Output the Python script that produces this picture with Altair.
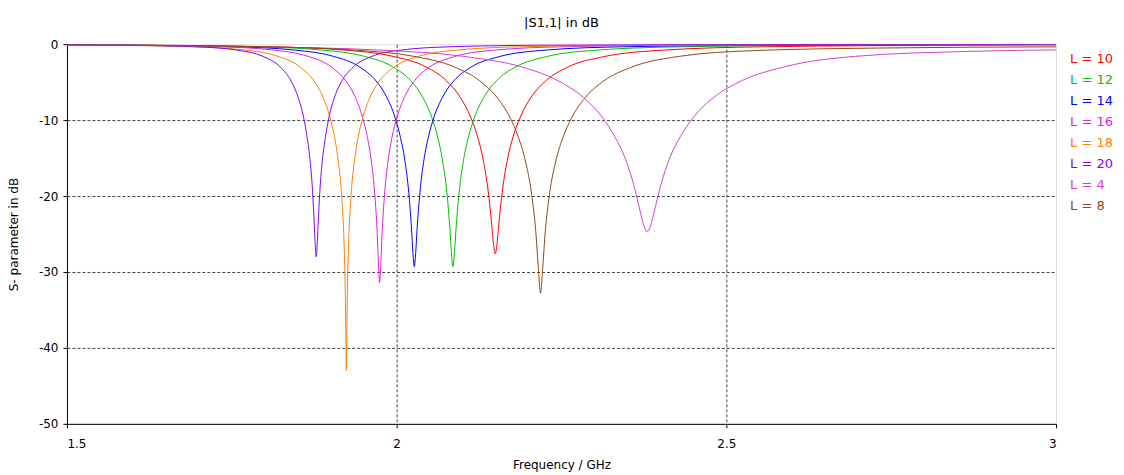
import altair as alt
import pandas as pd

# ---- data (frequency in GHz, |S1,1| in dB) ----
L20_f = [1.5, 1.5755, 1.6946, 1.7578, 1.7970, 1.8236, 1.8398, 1.8506, 1.8588, 1.8643, 1.8684, 1.8725, 1.8752, 1.8766, 1.878,
         1.8794, 1.8808, 1.8835, 1.8877, 1.8919, 1.8974, 1.9058, 1.9171, 1.9341, 1.9627, 2.0064, 2.0813, 2.2386, 2.5099, 3.0]
L20_db = [-0.07, -0.12, -0.34, -0.78, -1.60, -3.01, -4.83, -6.99, -9.62, -12.3, -15.05, -19.4, -23.9, -26.56, -28.0,
          -26.56, -23.9, -19.4, -15.05, -12.3, -9.62, -6.99, -4.83, -3.01, -1.60, -0.78, -0.34, -0.12, -0.04, -0.02]

L18_f = [1.5, 1.5431, 1.6904, 1.7701, 1.8198, 1.8538, 1.8745, 1.8884, 1.8989, 1.9060, 1.9113, 1.9166, 1.9201, 1.9219, 1.9230, 1.9237,
         1.9244, 1.9255, 1.9273, 1.9308, 1.9362, 1.9416, 1.9488, 1.9597, 1.9742, 1.9963, 2.0335, 2.0907, 2.1892, 2.3981, 2.7639, 3.0]
L18_db = [-0.09, -0.12, -0.34, -0.78, -1.60, -3.01, -4.83, -6.99, -9.62, -12.3, -15.26, -20.0, -25.9, -31.7, -38.2, -43.0,
          -38.2, -31.7, -25.9, -20.0, -15.26, -12.3, -9.62, -6.99, -4.83, -3.01, -1.60, -0.78, -0.34, -0.12, -0.04, -0.03]

L16_f = [1.5, 1.5772, 1.7306, 1.8137, 1.8656, 1.9011, 1.9227, 1.9373, 1.9483, 1.9557, 1.9612, 1.9668, 1.9705, 1.9723, 1.9742,
         1.9761, 1.9779, 1.9817, 1.9873, 1.9929, 2.0005, 2.0118, 2.0270, 2.0501, 2.0891, 2.1489, 2.2521, 2.4712, 2.8551, 3.0]
L16_db = [-0.08, -0.12, -0.34, -0.78, -1.60, -3.01, -4.83, -6.99, -9.62, -12.3, -15.17, -19.74, -24.9, -28.7, -31.4,
          -28.7, -24.9, -19.74, -15.17, -12.3, -9.62, -6.99, -4.83, -3.01, -1.60, -0.78, -0.34, -0.12, -0.04, -0.03]

L14_f = [1.5, 1.5825, 1.7527, 1.8457, 1.9041, 1.9441, 1.9686, 1.9850, 1.9975, 2.0058, 2.0121, 2.0184, 2.0226, 2.0247, 2.0268,
         2.0289, 2.0310, 2.0353, 2.0416, 2.0480, 2.0566, 2.0695, 2.0868, 2.1130, 2.1574, 2.2257, 2.3438, 2.5959, 3.0]
L14_db = [-0.08, -0.12, -0.34, -0.78, -1.60, -3.01, -4.83, -6.99, -9.62, -12.3, -15.11, -19.56, -24.36, -27.45, -29.3,
          -27.45, -24.36, -19.56, -15.11, -12.3, -9.62, -6.99, -4.83, -3.01, -1.60, -0.78, -0.34, -0.12, -0.05]

L12_f = [1.5, 1.6022, 1.7861, 1.8873, 1.9510, 1.9948, 2.0215, 2.0396, 2.0532, 2.0624, 2.0692, 2.0762, 2.0808, 2.0831, 2.0854,
         2.0877, 2.0900, 2.0947, 2.1017, 2.1087, 2.1181, 2.1323, 2.1513, 2.1801, 2.2291, 2.3043, 2.4348, 2.7144, 3.0]
L12_db = [-0.08, -0.12, -0.34, -0.78, -1.60, -3.01, -4.83, -6.99, -9.62, -12.3, -15.11, -19.56, -24.36, -27.45, -29.3,
          -27.45, -24.36, -19.56, -15.11, -12.3, -9.62, -6.99, -4.83, -3.01, -1.60, -0.78, -0.34, -0.12, -0.06]

L10_f = [1.5, 1.5993, 1.8060, 1.9212, 1.9943, 2.0447, 2.0756, 2.0964, 2.1122, 2.1228, 2.1308, 2.1388, 2.1441, 2.1468, 2.1495,
         2.1522, 2.1549, 2.1603, 2.1684, 2.1765, 2.1875, 2.2039, 2.2261, 2.2597, 2.3167, 2.4049, 2.5583, 2.8890, 3.0]
L10_db = [-0.08, -0.12, -0.34, -0.78, -1.60, -3.01, -4.83, -6.99, -9.6, -12.2, -15.03, -19.35, -23.74, -26.27, -27.6,
          -26.27, -23.74, -19.35, -15.03, -12.2, -9.6, -6.99, -4.83, -3.01, -1.60, -0.78, -0.34, -0.12, -0.09]

L8_f = [1.5, 1.5537, 1.7970, 1.9362, 2.0257, 2.0878, 2.1261, 2.1520, 2.1716, 2.1848, 2.1948, 2.2048, 2.2115, 2.2148, 2.2182,
        2.2216, 2.2249, 2.2317, 2.2419, 2.2521, 2.2658, 2.2864, 2.3143, 2.3567, 2.4290, 2.5412, 2.7381, 3.0]
L8_db = [-0.10, -0.12, -0.34, -0.78, -1.60, -3.01, -4.83, -6.99, -9.62, -12.3, -15.2, -19.82, -25.2, -29.4, -32.8,
         -29.4, -25.2, -19.82, -15.2, -12.3, -9.62, -6.99, -4.83, -3.01, -1.60, -0.85, -0.5, -0.35]

L4_f = [1.5, 1.785, 1.9752, 2.1010, 2.1899, 2.2452, 2.2829, 2.3116, 2.3309, 2.3456, 2.3603, 2.3701, 2.3751, 2.380,
        2.3850, 2.3899, 2.3999, 2.4150, 2.4301, 2.4504, 2.4812, 2.5229, 2.5866, 2.6960, 2.8677, 3.0]
L4_db = [-0.13, -0.34, -0.78, -1.60, -3.01, -4.83, -6.99, -9.6, -12.2, -14.81, -18.77, -22.3, -23.97, -24.7,
         -23.97, -22.3, -18.77, -14.81, -12.2, -9.6, -6.99, -4.83, -3.01, -1.60, -0.95, -0.75]

series_names = ["L = 10", "L = 12", "L = 14", "L = 16", "L = 18", "L = 20", "L = 4", "L = 8"]
series_colors = ["#ff0000", "#00c000", "#0000ff", "#e020e0", "#ff8000", "#8000ff", "#d040d0", "#8b4a14"]
series_data = [(L10_f, L10_db), (L12_f, L12_db), (L14_f, L14_db), (L16_f, L16_db),
               (L18_f, L18_db), (L20_f, L20_db), (L4_f, L4_db), (L8_f, L8_db)]

x_ticks = [1.5, 2, 2.5, 3]
y_ticks = [0, -10, -20, -30, -40, -50]

rows = []
for name, (fs, dbs) in zip(series_names, series_data):
    for f, d in zip(fs, dbs):
        rows.append({"series": name, "freq": f, "db": d})
df = pd.DataFrame(rows)

FONT = "DejaVu Sans"

chart = alt.Chart(df).mark_line(strokeWidth=1, interpolate="monotone", clip=True).encode(
    x=alt.X("freq:Q",
            scale=alt.Scale(domain=[1.5, 3.0], nice=False, zero=False),
            axis=alt.Axis(values=x_ticks, title="Frequency / GHz", labelExpr="'' + datum.value",
                          grid=True, gridColor="#404040", gridDash=[3, 2],
                          gridOpacity={"condition": {"test": "datum.value == 1.5 || datum.value == 3", "value": 0}, "value": 1},
                          domainColor="#000", tickColor="#000", tickSize=4, labelPadding=11,
                          labelFont=FONT, labelFontSize=12, labelColor="#000",
                          titleFont=FONT, titleFontSize=12, titleFontWeight="normal", titleColor="#000",
                          titleX=495, titleY=41, titleBaseline="middle", titleAlign="center")),
    y=alt.Y("db:Q",
            scale=alt.Scale(domain=[-50, 0], nice=False, zero=False),
            axis=alt.Axis(values=y_ticks, title="S- parameter in dB", labelExpr="'' + datum.value",
                          grid=True, gridColor="#404040", gridDash=[3, 2],
                          gridOpacity={"condition": {"test": "datum.value == 0 || datum.value == -50", "value": 0}, "value": 1},
                          domainColor="#000", tickColor="#000", tickSize=4, labelPadding=5,
                          labelFont=FONT, labelFontSize=12, labelColor="#000",
                          titleFont=FONT, titleFontSize=12, titleFontWeight="normal", titleColor="#000",
                          titleX=-53, titleY=190, titleAngle=270, titleBaseline="middle", titleAlign="center")),
    color=alt.Color("series:N",
                    scale=alt.Scale(domain=series_names, range=series_colors),
                    legend=alt.Legend(title=None, orient="none", legendX=991, legendY=8,
                                      symbolSize=0, symbolStrokeWidth=0, symbolOpacity=0,
                                      labelOffset=0, padding=0, rowPadding=7,
                                      labelFont=FONT, labelFontSize=13,
                                      labelColor={"expr": "scale('color', datum.value)"})),
).properties(
    width=990, height=380,
    title=alt.TitleParams("|S1,1| in dB", font=FONT, fontSize=13, fontWeight="normal", color="#000",
                          anchor="middle", frame="group", offset=17, baseline="alphabetic", dy=19),
    autosize=alt.AutoSizeParams(type="none"),
    padding={"left": 59, "top": 36, "right": 60, "bottom": 50},
).configure_view(stroke="#000", strokeWidth=1).configure(background="white")

chart.save("out.html", embed_options={"renderer": "svg", "actions": False})
